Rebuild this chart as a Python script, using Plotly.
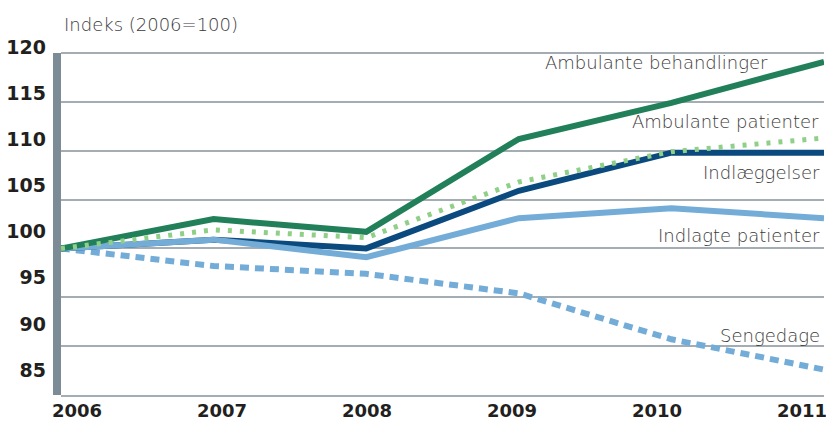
import plotly.graph_objects as go

years = [2006, 2007, 2008, 2009, 2010, 2011]
amb_behandlinger = [100, 103.0, 101.7, 111.2, 114.9, 119.1]
amb_patienter = [100, 101.9, 101.1, 106.8, 109.9, 111.3]
indlaeggelser = [100, 100.9, 100.0, 105.9, 109.8, 109.8]
indlagte_patienter = [100, 100.9, 99.1, 103.1, 104.1, 103.1]
sengedage = [100, 98.2, 97.4, 95.4, 90.7, 87.6]

y_ticks = [85, 90, 95, 100, 105, 110, 115, 120]
y_ticktext = [str(v) for v in y_ticks]
x_ticktext = [str(y) for y in years]

series = [
    ("Sengedage", sengedage, "#74acd8", 6, "9px,6px"),
    ("Indlæggelser", indlaeggelser, "#0b4a7e", 6, "solid"),
    ("Indlagte patienter", indlagte_patienter, "#74acd8", 6, "solid"),
    ("Ambulante behandlinger", amb_behandlinger, "#21805a", 6, "solid"),
    ("Ambulante patienter", amb_patienter, "#8fcf87", 5, "4px,8px"),
]

# label anchor positions (data coords, right-aligned)
labels = [
    ("Ambulante behandlinger", 2010.646, 118.98),
    ("Ambulante patienter", 2010.98, 112.94),
    ("Indlæggelser", 2010.99, 107.82),
    ("Indlagte patienter", 2010.99, 101.37),
    ("Sengedage", 2010.99, 91.14),
]

fig = go.Figure()
for name, vals, color, w, dash in series:
    fig.add_trace(go.Scatter(x=years, y=vals, mode="lines", name=name,
                             line=dict(color=color, width=w, dash=dash),
                             showlegend=False, hoverinfo="skip"))

# helper (empty) traces so the label axes render
fig.add_trace(go.Scatter(x=[], y=[], xaxis="x", yaxis="y2", showlegend=False, hoverinfo="skip"))
fig.add_trace(go.Scatter(x=[], y=[], xaxis="x2", yaxis="y", showlegend=False, hoverinfo="skip"))

label_font = dict(family="DejaVu Sans", size=18, color="#3a3a3a", weight=200)
for text, x, y in labels:
    fig.add_annotation(x=x, y=y, xref="x", yref="y", text=text, showarrow=False,
                       xanchor="right", yanchor="middle", font=label_font)

fig.add_annotation(x=0.001, y=1.0137, xref="paper", yref="paper", text="Indeks (2006=100)",
                   showarrow=False, xanchor="left", yanchor="middle", font=label_font)

# grey left bar spanning the value range
fig.add_shape(type="rect", xref="x domain", yref="y", x0=-0.0105, x1=0,
              y0=y_ticks[0], y1=y_ticks[-1], fillcolor="#7b8c96", line_width=0, layer="above")

tick_font = dict(family="DejaVu Sans", size=19, color="#231f20", weight="bold")
xtick_font = dict(family="DejaVu Sans", size=18, color="#231f20", weight="bold")

fig.update_layout(
    width=826, height=423,
    margin=dict(l=61, r=2, t=30, b=28),
    paper_bgcolor="white", plot_bgcolor="rgba(0,0,0,0)",
    xaxis=dict(range=[2006, 2011], showgrid=False, zeroline=False, showticklabels=False,
               showline=True, linecolor="#a3adb3", linewidth=1.5, ticks="", automargin=False),
    xaxis2=dict(range=[2005.8897, 2011.1517], overlaying="x", side="bottom", anchor="y",
                tickvals=years, ticktext=x_ticktext, tickfont=xtick_font, showgrid=False,
                zeroline=False, showline=False, ticks="", ticklabelstandoff=3,
                ticklabeloverflow="allow", automargin=False),
    yaxis=dict(domain=[0, 1], range=[85, 122.354], tickvals=y_ticks, showticklabels=False,
               showgrid=True, gridcolor="#a3adb3", gridwidth=1.5, zeroline=False,
               showline=False, ticks="", automargin=False),
    yaxis2=dict(overlaying="y", range=[82.291, 121.84], side="left",
                tickvals=y_ticks, ticktext=y_ticktext, tickfont=tick_font, showgrid=False,
                zeroline=False, showline=False, ticks="", ticklabelstandoff=14,
                automargin=False),
)

fig.write_html("out.html")
